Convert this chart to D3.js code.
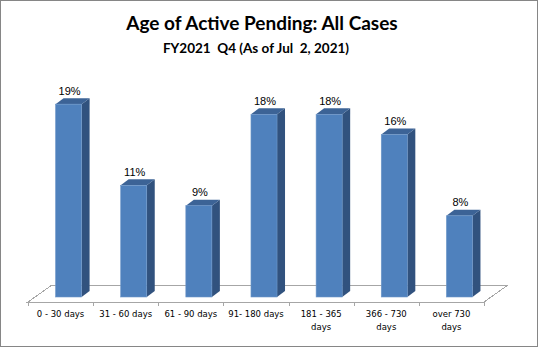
<!DOCTYPE html>
<html>
<head>
<meta charset="utf-8">
<script src="https://cdn.jsdelivr.net/npm/d3@7"></script>
<style>
  html, body { margin: 0; padding: 0; background: #fff; }
  svg { display: block; }
  text { white-space: pre; }
</style>
</head>
<body>
<div id="chart"></div>
<script>
// Age buckets and share of active pending cases (%)
const categories = ["0 - 30 days", "31 - 60 days", "61 - 90 days", "91- 180 days",
                    "181 - 365 days", "366 - 730 days", "over 730 days"];
const shares = [19, 11, 9, 18, 18, 16, 8];
const valueLabels = ["19%", "11%", "9%", "18%", "18%", "16%", "8%"];

const titleText = "Age of Active Pending: All Cases";
const subtitleText = "FY2021  Q4 (As of Jul  2, 2021)";

const W = 538, H = 347;
const svg = d3.select("#chart").append("svg")
  .attr("width", W).attr("height", H);

// outer frame
svg.append("rect")
  .attr("x", 0.5).attr("y", 0.5).attr("width", W - 1).attr("height", H - 1)
  .attr("fill", "#fff").attr("stroke", "#868686");

// titles
svg.append("text")
  .attr("x", 262).attr("y", 30)
  .attr("text-anchor", "middle")
  .style("font-family", "Lato, 'Open Sans', sans-serif")
  .style("font-weight", "bold").style("font-size", "19px")
  .attr("fill", "#000")
  .text(titleText);

svg.append("text")
  .attr("x", 256).attr("y", 53)
  .attr("text-anchor", "middle")
  .style("font-family", "Lato, 'Open Sans', sans-serif")
  .style("font-weight", "bold").style("font-size", "13.5px")
  .attr("fill", "#000")
  .text(subtitleText);

// 3D geometry
const floorFront = 302;          // y of the front floor edge
const floorDepth = { dx: 24, dy: -17 };
const barOffset = { dx: 8, dy: -5 };   // bar front face sits inside the floor depth
const barDepth = { dx: 8, dy: -6 };

const x = d3.scaleBand()
  .domain(categories)
  .range([28, 484])
  .paddingInner(0.6)
  .paddingOuter(0.3);

const y = d3.scaleLinear()
  .domain([0, 20])
  .range([floorFront + barOffset.dy, floorFront + barOffset.dy - 203]);

const x0 = x.range()[0], x1 = x.range()[1];

// floor
const floor = svg.append("g");
floor.append("path")
  .attr("d", `M${x0},${floorFront} L${x1},${floorFront} L${x1 + floorDepth.dx},${floorFront + floorDepth.dy} L${x0 + floorDepth.dx},${floorFront + floorDepth.dy} Z`)
  .attr("fill", "#fff")
  .attr("stroke", "#a6a6a6")
  .attr("stroke-width", 1)
  .attr("shape-rendering", "crispEdges");

// category boundary ticks on the front edge
const step = x.step();
const boundaries = d3.range(categories.length + 1).map(i => x0 + i * step);
floor.selectAll("line.tick")
  .data(boundaries)
  .join("line")
  .attr("class", "tick")
  .attr("x1", d => Math.round(d) + 0.5).attr("x2", d => Math.round(d) + 0.5)
  .attr("y1", floorFront).attr("y2", floorFront + 4)
  .attr("stroke", "#a6a6a6");

// bars
const frontColor = "#4f81bd", topColor = "#3c6396", sideColor = "#31527e";
const bars = svg.append("g").selectAll("g.bar")
  .data(categories.map((c, i) => ({ c, v: shares[i], label: valueLabels[i] })))
  .join("g").attr("class", "bar");

bars.each(function(d) {
  const g = d3.select(this);
  const bx = x(d.c) + barOffset.dx;
  const bw = x.bandwidth();
  const top = y(d.v), bot = y(0);
  // side face
  g.append("path")
    .attr("d", `M${bx + bw},${top} L${bx + bw + barDepth.dx},${top + barDepth.dy} L${bx + bw + barDepth.dx},${bot + barDepth.dy} L${bx + bw},${bot} Z`)
    .attr("fill", sideColor);
  // top face
  g.append("path")
    .attr("d", `M${bx},${top} L${bx + barDepth.dx},${top + barDepth.dy} L${bx + bw + barDepth.dx},${top + barDepth.dy} L${bx + bw},${top} Z`)
    .attr("fill", topColor);
  // front face
  g.append("rect")
    .attr("x", bx).attr("y", top)
    .attr("width", bw).attr("height", bot - top)
    .attr("fill", frontColor)
    .attr("stroke", "#6e97c9").attr("stroke-width", 0.6);
  // value label
  g.append("text")
    .attr("x", bx + bw / 2 + 1).attr("y", top - 9.5)
    .attr("text-anchor", "middle")
    .style("font-family", "'Liberation Sans', Arial, sans-serif")
    .style("font-size", "11px")
    .attr("fill", "#000")
    .text(d.label);
});

// category axis labels
const axis = d3.axisBottom(x).tickSize(0).tickPadding(0);
const axisG = svg.append("g")
  .attr("transform", `translate(0,${floorFront})`)
  .call(axis);
axisG.select(".domain").remove();
axisG.selectAll(".tick text")
  .style("font-family", "'DejaVu Sans', Verdana, sans-serif")
  .style("font-size", "8.5px")
  .attr("fill", "#000")
  .attr("dy", null)
  .attr("y", 15)
  .each(function() { wrap(d3.select(this), 58); });

function wrap(textSel, maxWidth) {
  const words = textSel.text().split(/\s+/);
  const xPos = textSel.attr("x") || 0;
  textSel.text(null);
  let line = [];
  let lineNo = 0;
  let tspan = textSel.append("tspan").attr("x", xPos).attr("dy", 0);
  words.forEach(w => {
    line.push(w);
    tspan.text(line.join(" "));
    if (tspan.node().getComputedTextLength() > maxWidth && line.length > 1) {
      line.pop();
      tspan.text(line.join(" "));
      line = [w];
      lineNo++;
      tspan = textSel.append("tspan").attr("x", xPos).attr("dy", 13).text(w);
    }
  });
}
</script>
</body>
</html>
